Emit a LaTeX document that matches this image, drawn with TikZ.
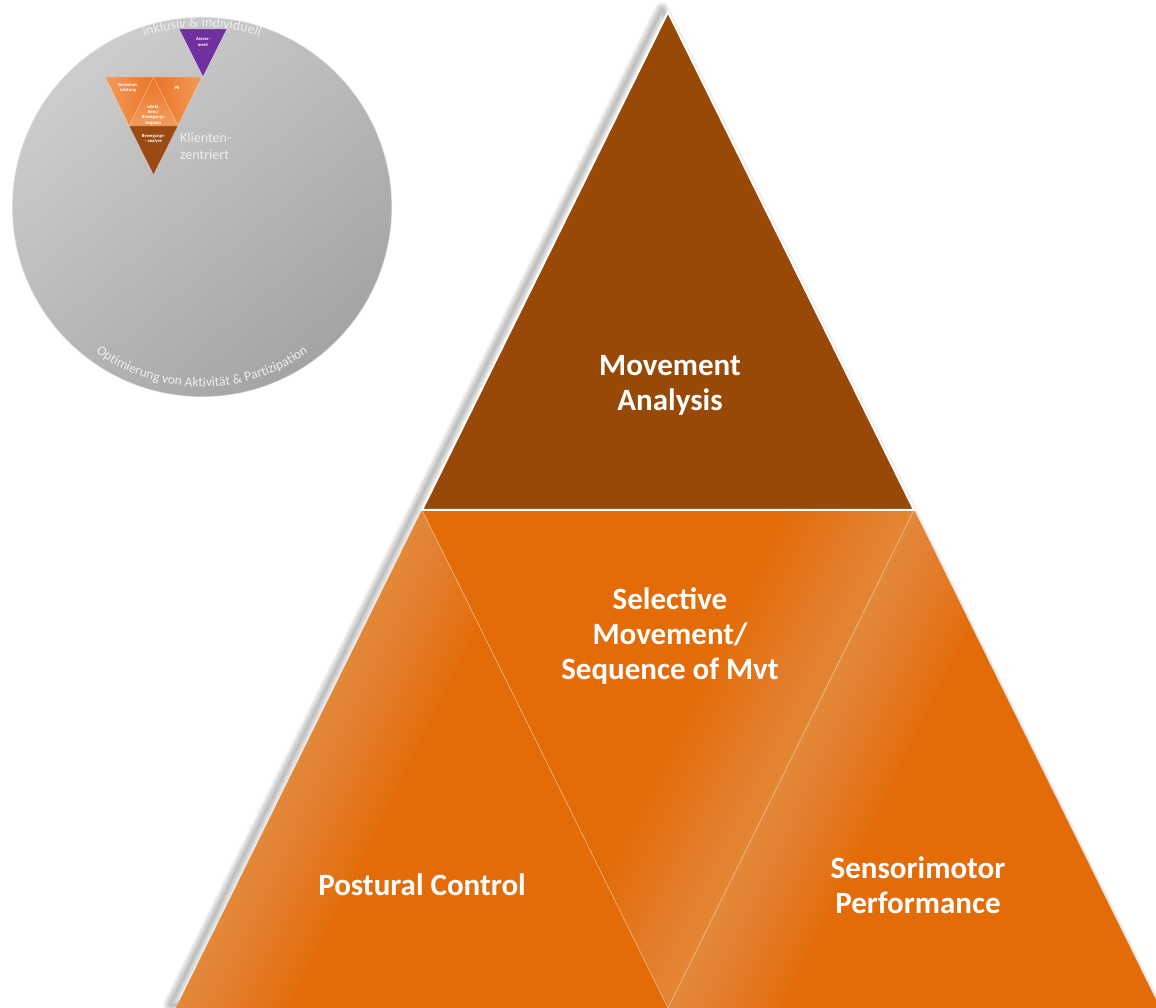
\documentclass[tikz,border=0pt]{standalone}
\usepackage{fontspec}
\setmainfont{Carlito}
\usetikzlibrary{decorations.text}
\definecolor{mabrown}{HTML}{984807}
\definecolor{maorange}{HTML}{E36C09}
\definecolor{glosscol}{HTML}{F2A868}
\definecolor{circtop}{HTML}{CDCDCD}
\definecolor{circbot}{HTML}{A4A4A4}
\definecolor{circtext}{HTML}{EEEEEE}
\definecolor{smorange}{HTML}{EA7424}
\definecolor{smlight}{HTML}{F29C5C}
\definecolor{smbrown}{HTML}{9A4A12}
\definecolor{smpurple}{HTML}{7030A0}
\begin{document}
\begin{tikzpicture}[x=1pt,y=1pt,
  bigtext/.style={font=\fontsize{31}{35}\selectfont\bfseries, text=white, align=center, inner sep=0},
  smalltext/.style={font=\fontsize{4.6}{5.3}\selectfont\bfseries, text=white, align=center, inner sep=0},
  seam/.style={draw=white, draw opacity=0.45, line width=0.6pt},
]
\useasboundingbox (0,0) rectangle (1156,1008);
\begin{scope}
\clip (0,0) rectangle (1156,1008);

% ---------- big pyramid coordinates
\coordinate (A)  at (668,996);
\coordinate (L1) at (422,498);
\coordinate (R1) at (914,498);
\coordinate (BL) at (176,0);
\coordinate (BM) at (668,0);
\coordinate (BR) at (1160,0);

% shadow
\foreach \i in {1,...,12}
  \draw[black, opacity=0.022, line width=\i*1.2pt, line join=round]
    ([shift={(-6,3)}]A) -- ([shift={(-6,3)}]BL) -- ([shift={(-6,3)}]BR) -- cycle;

% lower triangles
\fill[maorange] (L1) -- (BL) -- (BM) -- cycle;
\fill[maorange] (L1) -- (R1) -- (BM) -- cycle;
\fill[maorange] (R1) -- (BM) -- (BR) -- cycle;

% gloss: left triangle (along its left edge)
\begin{scope}
  \clip (L1) -- (BL) -- (BM) -- cycle;
  \begin{scope}[shift={(176,0)}, rotate=63.71]
    \foreach \k in {0,...,24}
      \fill[glosscol, opacity=0.036] (-20,0) rectangle (620,-\k*4-4);
  \end{scope}
\end{scope}
% gloss: right triangle (along its left edge)
\begin{scope}
  \clip (R1) -- (BM) -- (BR) -- cycle;
  \begin{scope}[shift={(668,0)}, rotate=63.71]
    \foreach \k in {0,...,24}
      \fill[glosscol, opacity=0.036] (-20,0) rectangle (620,-\k*4-4);
  \end{scope}
\end{scope}
% gloss: middle triangle (along its right edge)
\begin{scope}
  \clip (L1) -- (R1) -- (BM) -- cycle;
  \begin{scope}[shift={(668,0)}, rotate=63.71]
    \foreach \k in {0,...,24}
      \fill[glosscol, opacity=0.03] (-20,0) rectangle (620,\k*4.5+4.5);
  \end{scope}
\end{scope}

% seams between lower triangles
\draw[seam] (L1) -- (BM) -- (R1);

% top triangle
\fill[mabrown] (A) -- (L1) -- (R1) -- cycle;
\draw[white, line width=2pt, line join=miter] (A) -- (L1) -- (R1) -- cycle;

% big labels
\node[bigtext] (ma)  at (670,623) {Movement\\Analysis};
\node[bigtext] (sel) at (670,372) {Selective\\Movement/\\Sequence of Mvt};
\node[bigtext] (pc)  at (422,123) {Postural Control};
\node[bigtext] (sp)  at (918,123) {Sensorimotor\\Performance};

% ---------- small circle
\coordinate (C) at (202,801);
\shade[top color=circtop, bottom color=circbot, shading angle=40] (C) circle[radius=190];
\draw[white, opacity=0.55, line width=1.2pt] (C) circle[radius=190];

% small purple triangle
\coordinate (P1) at (179,979);
\coordinate (P2) at (227,979);
\coordinate (P3) at (203,931);
\fill[smpurple] (P1) -- (P2) -- (P3) -- cycle;
\draw[white, opacity=0.6, line width=0.5pt] (P1) -- (P2) -- (P3) -- cycle;
\node[smalltext] (as) at (203,966) {Assess-\\ment};

\path[decorate, decoration={text along path, text align=center, text color=circtext,
  text={|\fontsize{14}{14}\selectfont|inklusiv {\&} individuell}}]
  ([shift={(150:180)}]C) arc[start angle=150, end angle=30, radius=180];
\path[decorate, decoration={text along path, text align=center, text color=circtext,
  text={|\fontsize{13.5}{13.5}\selectfont|Optimierung von Aktivität {\&} Partizipation}}]
  ([shift={(212:180)}]C) arc[start angle=212, end angle=328, radius=180];

% small orange pyramid
\coordinate (O1) at (105,931);
\coordinate (Om) at (153.5,931);
\coordinate (O2) at (202,931);
\coordinate (Ol) at (129,882);
\coordinate (Or) at (178,882);
\coordinate (Ob) at (153.5,833);
\shade[left color=smlight, right color=smorange] (O1) -- (Om) -- (Ol) -- cycle;
\shade[left color=smorange, right color=smlight] (Om) -- (O2) -- (Or) -- cycle;
\shade[top color=smorange, bottom color=smlight] (Om) -- (Ol) -- (Or) -- cycle;
\fill[smbrown] (Ol) -- (Or) -- (Ob) -- cycle;
\draw[white, opacity=0.55, line width=0.4pt] (O1) -- (O2) -- (Ob) -- cycle
  (Om) -- (Ol) -- (Or) -- cycle;
\node[smalltext] (sl) at (128,920) {Sensomot.\\Leistung};
\node[smalltext] (pk) at (177,920) {PK};
\node[smalltext] (sb) at (153.5,893) {selekt.\\Bew./\\Bewegungs-\\Sequenz};
\node[smalltext] (ba) at (153.5,869) {Bewegungs-\\- analyse};

\node[anchor=north west, inner sep=0, align=left, text=circtext,
  font=\fontsize{14}{17}\selectfont] (kz) at (180,875) {Klienten-\\zentriert};
\end{scope}
\end{tikzpicture}
\end{document}
